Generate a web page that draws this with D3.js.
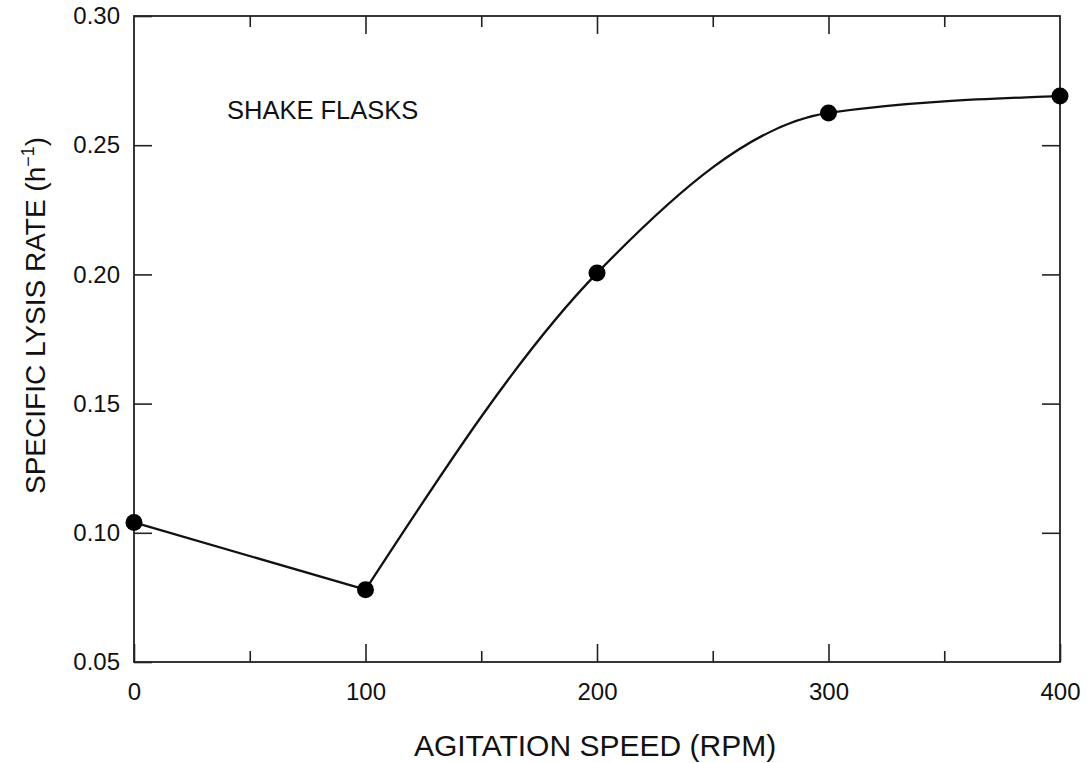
<!DOCTYPE html>
<html>
<head>
<meta charset="utf-8">
<script src="https://cdn.jsdelivr.net/npm/d3@7"></script>
<style>
  html, body { margin: 0; padding: 0; background: #fff; }
  text { font-family: "Liberation Sans", Arial, sans-serif; fill: #111; }
</style>
</head>
<body>
<svg id="chart" width="1090" height="763"></svg>
<script>
const speeds = [0, 100, 200, 300, 400];
const lysisRates = [0.104, 0.078, 0.2005, 0.2625, 0.269];
const xTickValues = [0, 100, 200, 300, 400];
const xMinorTickValues = [50, 150, 250, 350];
const yTickValues = [0.05, 0.10, 0.15, 0.20, 0.25, 0.30];
const xTitle = "AGITATION SPEED (RPM)";
const yTitle = "SPECIFIC LYSIS RATE (h";
const annotation = "SHAKE FLASKS";

const svg = d3.select("#chart");
const margin = { left: 134, right: 30, top: 16, bottom: 101 };
const W = 1090, H = 763;
const x = d3.scaleLinear().domain([0, 400]).range([margin.left, W - margin.right]);
const y = d3.scaleLinear().domain([0.05, 0.30]).range([H - margin.bottom, margin.top]);

const majorLen = 18, minorLen = 11;
const axisStyle = g => {
  g.attr("font-size", null).attr("font-family", null);
  g.select(".domain").remove();
  g.selectAll(".tick line").attr("stroke", "#222").attr("stroke-width", 1.6);
  g.selectAll(".tick text")
    .style("font-family", "'Liberation Sans', Arial, sans-serif")
    .style("font-size", "24px").attr("fill", "#111");
};

// frame
svg.append("rect")
  .attr("x", x(0)).attr("y", y(0.30))
  .attr("width", x(400) - x(0)).attr("height", y(0.05) - y(0.30))
  .attr("fill", "none").attr("stroke", "#222").attr("stroke-width", 1.8);

// bottom axis (major + labels)
svg.append("g").attr("transform", `translate(0,${y(0.05)})`)
  .call(d3.axisBottom(x).tickValues(xTickValues).tickSize(-majorLen).tickPadding(21).tickFormat(d3.format("d")))
  .call(axisStyle);
svg.append("g").attr("transform", `translate(0,${y(0.05)})`)
  .call(d3.axisBottom(x).tickValues(xMinorTickValues).tickSize(-minorLen).tickFormat(""))
  .call(axisStyle);
// top axis
svg.append("g").attr("transform", `translate(0,${y(0.30)})`)
  .call(d3.axisTop(x).tickValues(xTickValues.slice(1, -1)).tickSize(-majorLen).tickFormat(""))
  .call(axisStyle);
svg.append("g").attr("transform", `translate(0,${y(0.30)})`)
  .call(d3.axisTop(x).tickValues(xMinorTickValues).tickSize(-minorLen).tickFormat(""))
  .call(axisStyle);
// left axis
svg.append("g").attr("transform", `translate(${x(0)},0)`)
  .call(d3.axisLeft(y).tickValues(yTickValues).tickSize(-majorLen).tickPadding(14).tickFormat(d3.format(".2f")))
  .call(axisStyle);
// right axis
svg.append("g").attr("transform", `translate(${x(400)},0)`)
  .call(d3.axisRight(y).tickValues(yTickValues.slice(1, -1)).tickSize(-majorLen).tickFormat(""))
  .call(axisStyle);

// data
const pts = speeds.map((s, i) => [s, lysisRates[i]]);
const straight = d3.line().x(d => x(d[0])).y(d => y(d[1]));
const smooth = d3.line().x(d => x(d[0])).y(d => y(d[1])).curve(d3.curveMonotoneX);
svg.append("path").attr("d", straight(pts.slice(0, 2)))
  .attr("fill", "none").attr("stroke", "#111").attr("stroke-width", 2.3);
svg.append("path").attr("d", smooth(pts.slice(1)))
  .attr("fill", "none").attr("stroke", "#111").attr("stroke-width", 2.3);
svg.selectAll("circle.pt").data(pts).enter().append("circle")
  .attr("class", "pt")
  .attr("cx", d => x(d[0])).attr("cy", d => y(d[1])).attr("r", 8.5)
  .attr("fill", "#000");

// annotation
svg.append("text").attr("x", 227).attr("y", 119)
  .style("font-size", "25.5px").text(annotation);

// axis titles
svg.append("text").attr("x", 595).attr("y", 756)
  .attr("text-anchor", "middle").style("font-size", "30px").text(xTitle);

const yt = svg.append("text")
  .attr("transform", `translate(45,494) rotate(-90)`)
  .attr("text-anchor", "start").style("font-size", "28px");
yt.append("tspan").text(yTitle);
yt.append("tspan").attr("dy", -11).style("font-size", "18px").text("−1");
yt.append("tspan").attr("dy", 11).text(")");
</script>
</body>
</html>
